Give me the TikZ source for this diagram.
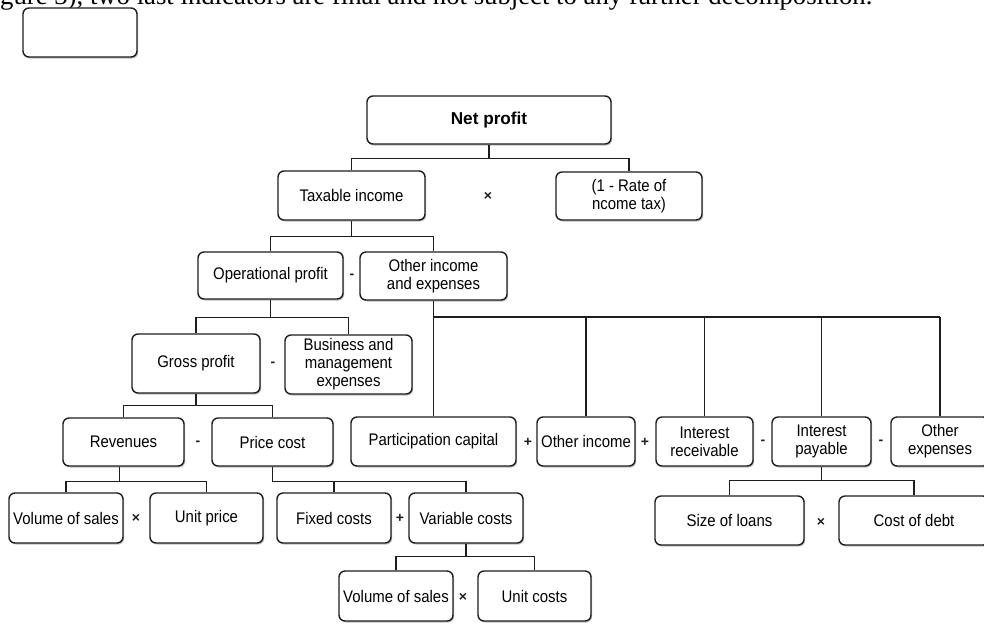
\documentclass[tikz,border=0pt]{standalone}
\usepackage{fontspec}
\setmainfont{Liberation Sans}
\newfontfamily\boxfont{Liberation Sans}[FakeStretch=0.89]
\newfontfamily\serifhead{Liberation Serif}
\usetikzlibrary{shadows}
\definecolor{ink}{HTML}{1E1E1E}
\begin{document}
\begin{tikzpicture}[x=1pt,y=-1pt,
  box/.style={draw=ink, line width=1.4pt, rounded corners=6pt, fill=white,
    align=center, inner sep=0pt, font=\boxfont\fontsize{16.8}{18}\selectfont,
    drop shadow={shadow xshift=1.2pt, shadow yshift=-1.5pt, fill=black, opacity=0.25}},
  link/.style={draw=ink, line width=1.3pt},
  busbar/.style={draw=ink, line width=2.2pt},
  opsym/.style={font=\fontsize{14}{14}\selectfont\bfseries, inner sep=0pt, text=ink}]
\useasboundingbox (0,0) rectangle (984,625);
\clip (0,0) rectangle (984,625);
\fill[white] (0,0) rectangle (984,625);

% header text, cut by the top edge as in the source page
\node[anchor=base west, inner sep=0pt] (hdr) at (0,4)
  {\resizebox{872pt}{!}{\serifhead gure 3), two last indicators are final and not subject to any further decomposition.}};

% empty box
\node[box, minimum width=114pt, minimum height=49pt] (empty) at (80,32.5) {};

% level 0-1
\node[box, minimum width=244pt, minimum height=48pt, font=\fontsize{17.2}{20}\selectfont\bfseries] (net) at (489,120) {Net profit};
\node[box, minimum width=147pt, minimum height=49pt] (tax) at (351.5,195.5) {Taxable income};
\node[box, minimum width=146pt, minimum height=48pt] (rate) at (629,196) {(1 - Rate of\\ncome tax)};

% level 2
\node[box, minimum width=145pt, minimum height=47pt] (op) at (270.5,275.5) {Operational profit};
\node[box, minimum width=147pt, minimum height=48pt] (oie) at (433.5,276) {Other income\\and expenses};

% level 3
\node[box, minimum width=128pt, minimum height=59pt] (gross) at (196,363.5) {Gross profit};
\node[box, minimum width=127pt, minimum height=59pt] (bme) at (348.5,364.5) {Business and\\management\\expenses};

% level 4
\node[box, minimum width=121pt, minimum height=48pt] (rev) at (123.5,442) {Revenues};
\node[box, minimum width=121pt, minimum height=48pt] (pc) at (272.5,442) {Price cost};
\node[box, minimum width=165pt, minimum height=49pt] (part) at (433.5,441.5) {Participation capital};
\node[box, minimum width=98pt, minimum height=49pt] (oi) at (586,441.5) {Other income};
\node[box, minimum width=97pt, minimum height=49pt] (ir) at (704.5,441.5) {Interest\\receivable};
\node[box, minimum width=99pt, minimum height=49pt] (ip) at (821.5,441.5) {Interest\\payable};
\node[box, minimum width=98pt, minimum height=49pt] (oe) at (940,441.5) {Other\\expenses};

% level 5
\node[box, minimum width=114pt, minimum height=50pt] (vs1) at (66,518) {Volume of sales};
\node[box, minimum width=113pt, minimum height=50pt] (up) at (206.5,518) {Unit price};
\node[box, minimum width=114pt, minimum height=50pt] (fc) at (334,518) {Fixed costs};
\node[box, minimum width=114pt, minimum height=50pt] (vc) at (466,518) {Variable costs};
\node[box, minimum width=149pt, minimum height=49pt] (sl) at (729.5,520.5) {Size of loans};
\node[box, minimum width=150pt, minimum height=49pt] (cd) at (914,520.5) {Cost of debt};

% level 6
\node[box, minimum width=114pt, minimum height=50pt] (vs2) at (396,596) {Volume of sales};
\node[box, minimum width=113pt, minimum height=50pt] (uc) at (534.5,596) {Unit costs};

% connectors
\draw[link] (net.south) -- ++(0,14) coordinate (j1);
\draw[link] (tax.north) |- (j1) -| (rate.north);

\draw[link] (tax.south) -- ++(0,16) coordinate (j2);
\draw[link] (op.north) |- (j2) -| (oie.north);

\draw[link] (op.south) -- ++(0,18) coordinate (j3);
\draw[link] (gross.north) |- (j3) -| (bme.north);

\draw[link] (oie.south) -- (part.north);
\path (oie.south) ++(0,16) coordinate (j4);
\draw[busbar] (j4) -- (j4 -| oe.north);
\draw[link] (oi.north) -- (oi.north |- j4);
\draw[link] (ir.north) -- (ir.north |- j4);
\draw[link] (ip.north) -- (ip.north |- j4);
\draw[link] (oe.north) -- (oe.north |- j4);

\draw[link] (gross.south) -- ++(0,12) coordinate (j5);
\draw[link] (rev.north) |- (j5) -| (pc.north);

\draw[link] ([xshift=-4pt]rev.south) -- ++(0,15) coordinate (j6);
\draw[link] (vs1.north) |- (j6) -| (up.north);

\draw[link] (pc.south) -- ++(0,15) coordinate (j7);
\draw[link] (fc.north) |- (j7) -| (vc.north);

\draw[link] (vc.south) -- ++(0,13) coordinate (j8);
\draw[link] (vs2.north) |- (j8) -| (uc.north);

\draw[link] (ip.south) -- ++(0,14) coordinate (j9);
\draw[link] (sl.north) |- (j9) -| (cd.north);

% operators
\node[opsym] (o1) at (488,196) {×};
\node[opsym] (o2) at (352,276) {-};
\node[opsym] (o3) at (273,364) {-};
\node[opsym] (o4) at (198,443) {-};
\node[opsym] (o5) at (528,442) {+};
\node[opsym] (o6) at (645,442) {+};
\node[opsym] (o7) at (763,442) {-};
\node[opsym] (o8) at (881,442) {-};
\node[opsym] (o9) at (136,518) {×};
\node[opsym] (o10) at (400,518) {+};
\node[opsym] (o11) at (821,522) {×};
\node[opsym] (o12) at (463,597) {×};
\end{tikzpicture}
\end{document}
